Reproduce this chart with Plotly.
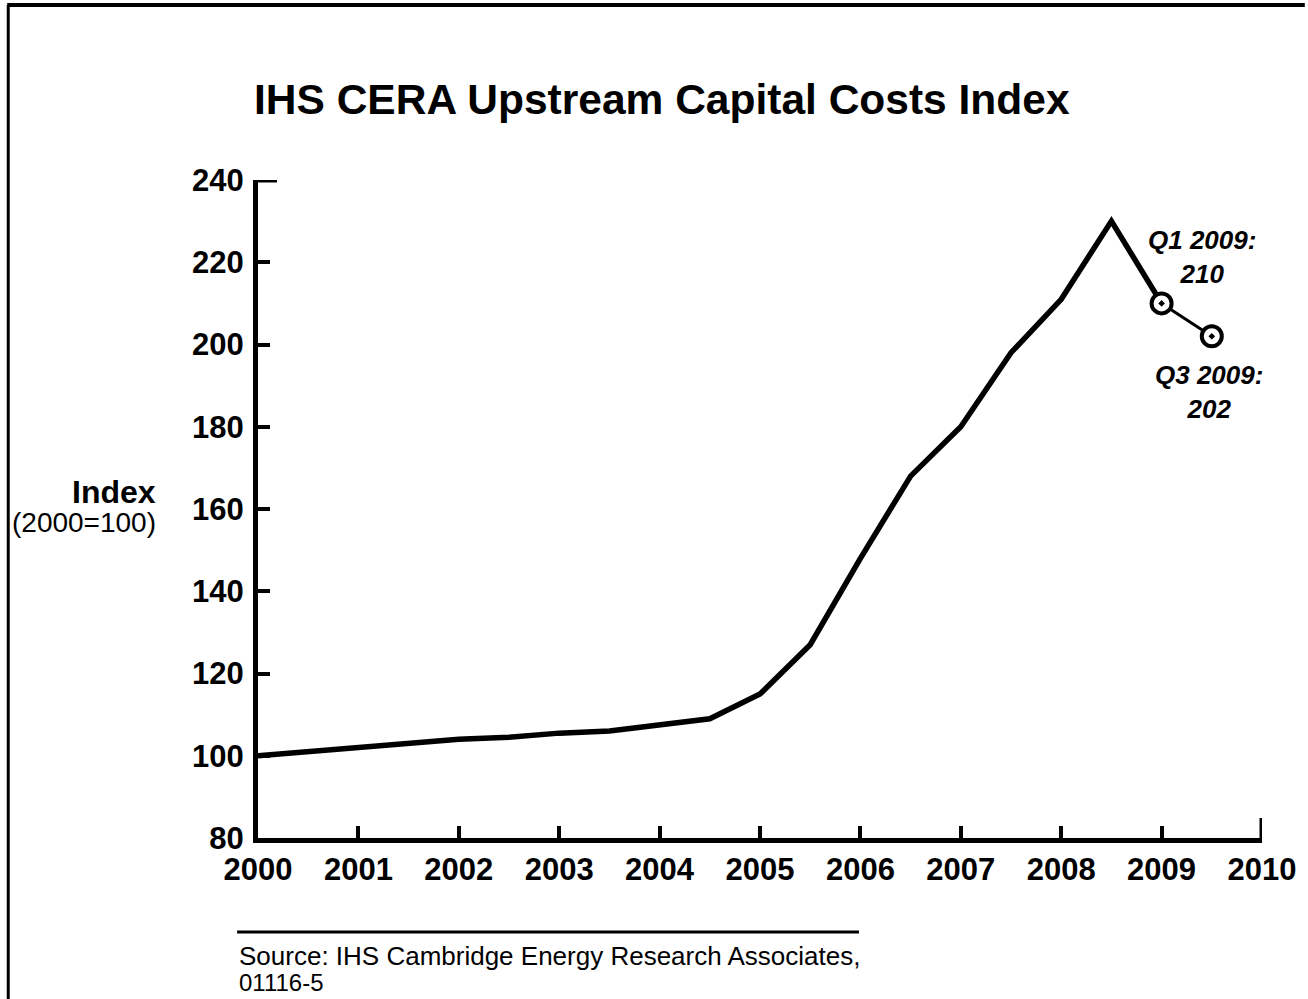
import plotly.graph_objects as go

# ---- data ----
years = [2000.0, 2000.5, 2001.0, 2001.5, 2002.0, 2002.5, 2003.0, 2003.5, 2004.0, 2004.5,
         2005.0, 2005.5, 2006.0, 2006.5, 2007.0, 2007.5, 2008.0, 2008.5, 2009.0, 2009.5]
index_values = [100, 101, 102, 103, 104, 104.5, 105.5, 106, 107.5, 109,
                115, 127, 148, 168, 180, 198, 211, 230, 210, 202]
x_ticks = [2000, 2001, 2002, 2003, 2004, 2005, 2006, 2007, 2008, 2009, 2010]
x_tick_labels = ["2000", "2001", "2002", "2003", "2004", "2005", "2006", "2007", "2008", "2009", "2010"]
y_ticks = [80, 100, 120, 140, 160, 180, 200, 220, 240]
y_tick_labels = [str(v) for v in y_ticks]
callout_labels = ["<i>Q1 2009:</i><br><i>210</i>", "<i>Q3 2009:</i><br><i>202</i>"]

FONT = "Liberation Sans, Arial, sans-serif"
W, H = 1308, 999
L, R, T, B = 258, 41, 180, 161
pw, ph = W - L - R, H - T - B

def px(xp):
    return (xp - L) / pw

def py(yp):
    return (H - B - yp) / ph

split = years.index(2009.0)

fig = go.Figure()
fig.add_trace(go.Scatter(
    x=years[:split + 1], y=index_values[:split + 1], mode="lines",
    line=dict(color="black", width=5.5), showlegend=False, hoverinfo="x+y"))
fig.add_trace(go.Scatter(
    x=years[split:], y=index_values[split:], mode="lines+markers",
    line=dict(color="black", width=3),
    marker=dict(symbol="circle-dot", size=20, color="white",
                line=dict(color="black", width=4)),
    showlegend=False, hoverinfo="x+y", cliponaxis=False))

fig.update_layout(
    width=W, height=H,
    margin=dict(l=L, r=R, t=T, b=B),
    paper_bgcolor="white", plot_bgcolor="white",
    font=dict(family=FONT, color="black"),
    showlegend=False,
    xaxis=dict(range=[2000, 2010], tickvals=x_ticks, ticktext=x_tick_labels,
               showgrid=False, zeroline=False, showline=True, linecolor="black",
               linewidth=5, ticks="inside", ticklen=12, tickwidth=4, tickcolor="black",
               tickfont=dict(family=FONT, size=31, color="black", weight="bold")),
    yaxis=dict(range=[80, 240], tickvals=y_ticks, ticktext=y_tick_labels,
               showgrid=False, zeroline=False, showline=True, linecolor="black",
               linewidth=5, ticks="inside", ticklen=12, tickwidth=4, tickcolor="black",
               ticklabelstandoff=3,
               tickfont=dict(family=FONT, size=31, color="black", weight="bold")),
)

annotations = [
    dict(text="<b>IHS CERA Upstream Capital Costs Index</b>", x=px(252), y=py(100),
         xref="paper", yref="paper", xanchor="left", yanchor="middle",
         showarrow=False, font=dict(family=FONT, size=42.5, color="black")),
    dict(text="<b>Index</b>", x=px(158), y=py(492), xref="paper", yref="paper",
         xanchor="right", yanchor="middle", showarrow=False,
         font=dict(family=FONT, size=32, color="black")),
    dict(text="(2000=100)", x=px(158), y=py(522), xref="paper", yref="paper",
         xanchor="right", yanchor="middle", showarrow=False,
         font=dict(family=FONT, size=28, color="black")),
    dict(text="<b>" + callout_labels[0] + "</b>", x=px(1207), y=py(257),
         xref="paper", yref="paper", xanchor="center", yanchor="middle",
         showarrow=False, align="center", font=dict(family=FONT, size=26, color="black")),
    dict(text="<b>" + callout_labels[1] + "</b>", x=px(1214), y=py(392),
         xref="paper", yref="paper", xanchor="center", yanchor="middle",
         showarrow=False, align="center", font=dict(family=FONT, size=26, color="black")),
    dict(text="Source: IHS Cambridge Energy Research Associates,",
         x=px(237), y=py(956), xref="paper", yref="paper", xanchor="left", yanchor="middle",
         showarrow=False, align="left", font=dict(family=FONT, size=26, color="black")),
    dict(text="01116-5",
         x=px(237), y=py(982), xref="paper", yref="paper", xanchor="left", yanchor="middle",
         showarrow=False, align="left", font=dict(family=FONT, size=24, color="black")),
]
fig.update_layout(annotations=annotations)

shapes = [
    # longer end ticks
    dict(type="line", xref="x", yref="y", xsizemode="pixel", xanchor=2000,
         x0=0, x1=19, y0=240, y1=240, line=dict(color="black", width=5)),
    dict(type="line", xref="x", yref="y", ysizemode="pixel", yanchor=80,
         x0=2010, x1=2010, y0=0, y1=20, line=dict(color="black", width=5)),
    # source rule
    dict(type="line", xref="paper", yref="paper", x0=px(237), x1=px(862),
         y0=py(932), y1=py(932), line=dict(color="black", width=3)),
    # page frame (left and top)
    dict(type="line", xref="paper", yref="paper", x0=px(7), x1=px(7),
         y0=py(5), y1=py(1005), line=dict(color="black", width=3)),
    dict(type="line", xref="paper", yref="paper", x0=px(6), x1=px(1310),
         y0=py(5), y1=py(5), line=dict(color="black", width=4)),
]
fig.update_layout(shapes=shapes)

fig.write_html("out.html", config={"displayModeBar": False},
               post_script="document.body.style.margin='0';")
